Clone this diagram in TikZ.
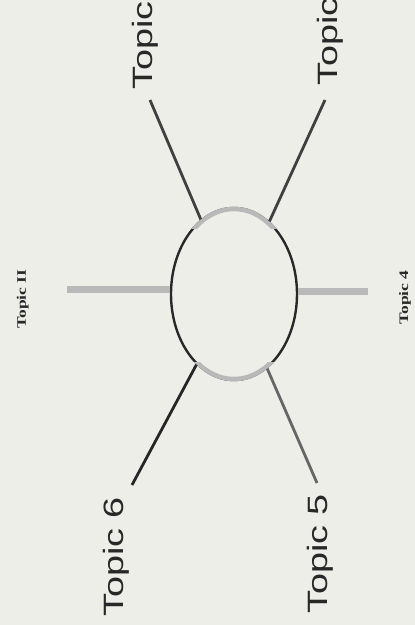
\documentclass[tikz,border=0pt]{standalone}
\usepackage{fontspec}
\usepackage{graphicx}
\setmainfont{Liberation Serif}
\setsansfont{Liberation Sans}
\usetikzlibrary{shapes.geometric}
\definecolor{paper}{RGB}{238,238,233}
\definecolor{ink}{RGB}{40,40,40}
\begin{document}
\begin{tikzpicture}[x=1pt,y=-1pt,
  spoke/.style={line width=2.8pt, draw=ink},
  bar/.style={line width=7pt, draw=gray!55},
  biglabel/.style={rotate=90, anchor=base west, inner sep=0pt,
    font=\sffamily\fontsize{28}{30}\selectfont, text=ink},
  smalllabel/.style={rotate=90, anchor=base west, inner sep=0pt,
    font=\rmfamily\bfseries\fontsize{13}{15}\selectfont, text=ink}]
\useasboundingbox (0,0) rectangle (415,625);
\fill[paper] (0,0) rectangle (415,625);
\clip (0,0) rectangle (415,625);

% centre ellipse
\node[ellipse, draw=ink, line width=2.4pt, minimum width=126pt,
      minimum height=172pt, inner sep=0pt] (c) at (234,294) {};
\begin{scope}
  \clip (150,195) rectangle (320,228);
  \draw[gray!55, line width=4.5pt] (234,294) ellipse [x radius=62, y radius=85];
\end{scope}
\begin{scope}
  \clip (150,362) rectangle (320,395);
  \draw[gray!55, line width=4.5pt] (234,294) ellipse [x radius=62, y radius=85];
\end{scope}

% free ends
\coordinate (ul) at (150,100);
\coordinate (ur) at (325,100);
\coordinate (ll) at (132,485);
\coordinate (lr) at (317,483);
\coordinate (lb) at (67,289);
\coordinate (rb) at (368,291);

% spokes
\draw[spoke, draw=black!75] (c.114) -- (ul);
\draw[spoke, draw=black!75] (c.64) -- (ur);
\draw[spoke, draw=black!85] (c.242) -- (ll);
\draw[spoke, draw=black!60] (c.294) -- (lr);
\draw[bar] (lb) -- (lb -| c.west);
\draw[bar] (rb) -- (rb -| c.east);

% labels
\node[biglabel] (t1) at (152,90) {\scalebox{1.35}[1]{Topic}};
\node[biglabel] (t2) at (337,86) {\scalebox{1.35}[1]{Topic}};
\node[biglabel] (t6) at (123,617) {\scalebox{1.35}[1]{Topic 6}};
\node[biglabel] (t5) at (327,614) {\scalebox{1.35}[1]{Topic 5}};
\node[smalllabel] (tl) at (26,329) {\scalebox{1.35}[1]{Topic II}};
\node[smalllabel] (t4) at (408,325) {\scalebox{1.35}[1]{Topic 4}};
\end{tikzpicture}
\end{document}
